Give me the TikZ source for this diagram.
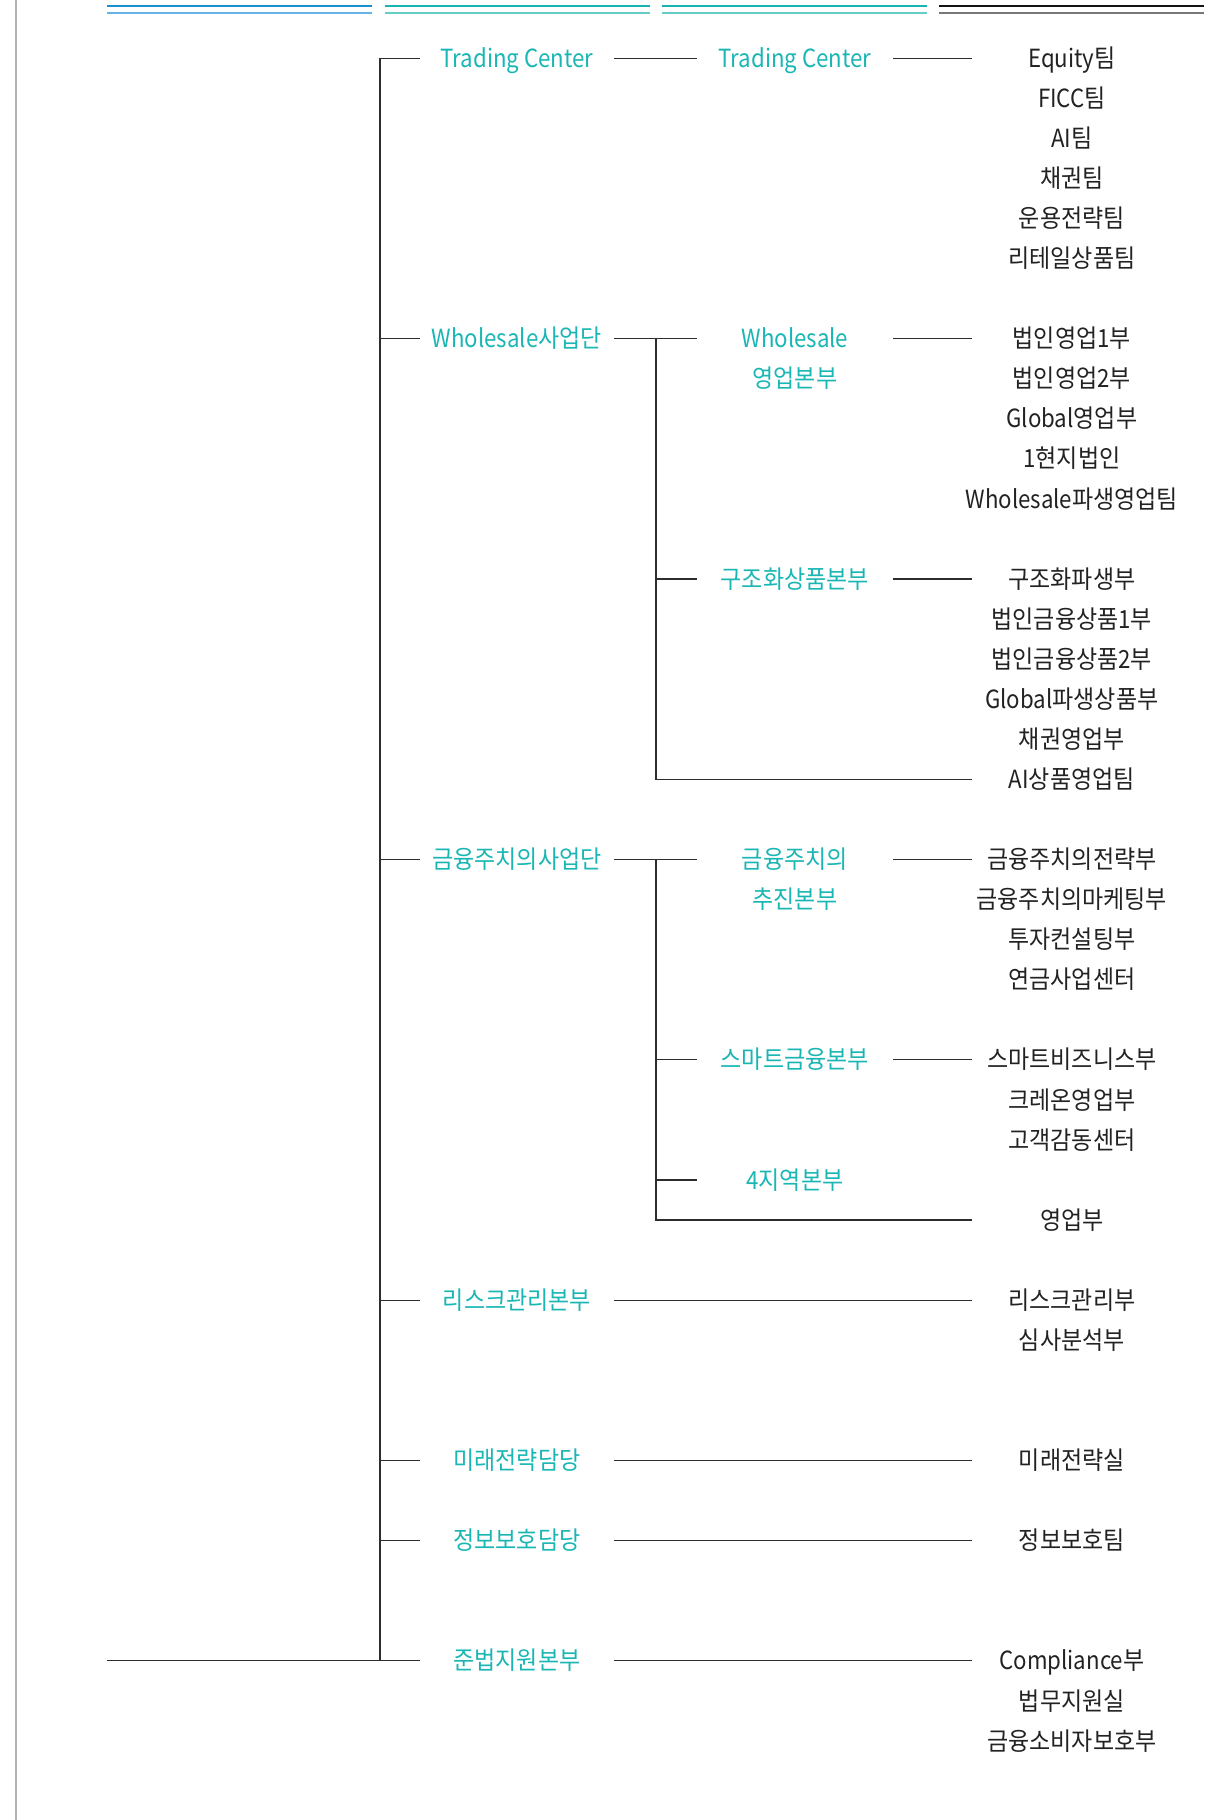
\documentclass[tikz,border=0pt]{standalone}
\usepackage{fontspec}
\setmainfont[FakeStretch=0.89]{Noto Sans CJK KR}
\newfontfamily\krfont[FakeStretch=0.92]{Noto Sans CJK KR}
\newcommand\kr[1]{{\krfont #1}}

\definecolor{orgteal}{RGB}{26,182,180}
\definecolor{orgtext}{RGB}{34,34,34}
\definecolor{orgline}{RGB}{45,45,45}
\definecolor{barblue}{RGB}{27,142,214}
\definecolor{barbluelt}{RGB}{100,180,230}
\definecolor{barteal}{RGB}{22,181,174}
\definecolor{bartealt}{RGB}{100,205,200}
\definecolor{barblack}{RGB}{20,20,20}
\definecolor{barblacklt}{RGB}{120,120,120}

\tikzset{
  unit/.style={inner sep=0pt, text height=9.2pt, text depth=0pt, align=center,
    font=\fontsize{12.5pt}{20pt}\selectfont},
  hq/.style={unit, text=orgteal, minimum width=97pt},
  div/.style={unit, text=orgteal, minimum width=98pt},
  team/.style={unit, text=orgtext, minimum width=99pt},
  link/.style={draw=orgline, line width=0.6pt},
}

\begin{document}
\begin{tikzpicture}[x=0.5pt, y=-0.5009pt]

        \useasboundingbox (0,0) rectangle (1226,1817);

        % header bars
        \foreach \x/\c in {107/barblue, 385/barteal, 662/barteal, 939/barblack}
          \draw[\c, line width=1.2pt] (\x,6.2) -- ++(265,0);
        \foreach \x/\c in {107/barbluelt, 385/bartealt, 662/bartealt, 939/barblacklt}
          \draw[\c, line width=0.7pt] (\x,13) -- ++(265,0);
        \draw[gray!60, line width=1pt] (16,0) -- (16,1817);

        \begin{scope}[every node/.style={hq}]
          \node (tc1)   at (517,58)   {Trading Center};
          \node (ws1)   at (517,338)  {Wholesale\kr{사업단}};
          \node (fd1)   at (517,858)  {\kr{금융주치의사업단}};
          \node (risk1) at (517,1298) {\kr{리스크관리본부}};
          \node (fut1)  at (517,1458) {\kr{미래전략담당}};
          \node (sec1)  at (517,1538) {\kr{정보보호담당}};
          \node (comp1) at (517,1658) {\kr{준법지원본부}};
        \end{scope}

        % two-line units sit on their last line
        \begin{scope}[every node/.style={div}]
          \node (tc2) at (795,58)   {Trading Center};
          \node (ws2) at (795,378)  {Wholesale\\\kr{영업본부}};
          \node (sp2) at (795,578)  {\kr{구조화상품본부}};
          \node (fd2) at (795,898)  {\kr{금융주치의}\\\kr{추진본부}};
          \node (sm2) at (795,1058) {\kr{스마트금융본부}};
          \node (rg2) at (795,1178) {4\kr{지역본부}};
        \end{scope}

        \begin{scope}[every node/.style={team}]
          \node (equity)   at (1072,58)   {Equity\kr{팀}};
          \node (ficc)     at (1072,98)   {FICC\kr{팀}};
          \node (ai)       at (1072,138)  {AI\kr{팀}};
          \node (bond)     at (1072,178)  {\kr{채권팀}};
          \node (opstrat)  at (1072,218)  {\kr{운용전략팀}};
          \node (retail)   at (1072,258)  {\kr{리테일상품팀}};

          \node (corp1)    at (1072,338)  {\kr{법인영업}1\kr{부}};
          \node (corp2)    at (1072,378)  {\kr{법인영업}2\kr{부}};
          \node (global)   at (1072,418)  {Global\kr{영업부}};
          \node (local)    at (1072,458)  {1\kr{현지법인}};
          \node (wsderiv)  at (1072,498)  {Wholesale\kr{파생영업팀}};

          \node (sderiv)   at (1072,578)  {\kr{구조화파생부}};
          \node (cprod1)   at (1072,618)  {\kr{법인금융상품}1\kr{부}};
          \node (cprod2)   at (1072,658)  {\kr{법인금융상품}2\kr{부}};
          \node (gderiv)   at (1072,698)  {Global\kr{파생상품부}};
          \node (bsales)   at (1072,738)  {\kr{채권영업부}};
          \node (aiprod)   at (1072,778)  {AI\kr{상품영업팀}};

          \node (fdstrat)  at (1072,858)  {\kr{금융주치의전략부}};
          \node (fdmkt)    at (1072,898)  {\kr{금융주치의마케팅부}};
          \node (invcons)  at (1072,938)  {\kr{투자컨설팅부}};
          \node (pension)  at (1072,978)  {\kr{연금사업센터}};

          \node (smbiz)    at (1072,1058) {\kr{스마트비즈니스부}};
          \node (kreon)    at (1072,1098) {\kr{크레온영업부}};
          \node (care)     at (1072,1138) {\kr{고객감동센터}};
          \node (sales)    at (1072,1218) {\kr{영업부}};

          \node (riskmgmt) at (1072,1298) {\kr{리스크관리부}};
          \node (review)   at (1072,1338) {\kr{심사분석부}};
          \node (futlab)   at (1072,1458) {\kr{미래전략실}};
          \node (secteam)  at (1072,1538) {\kr{정보보호팀}};

          \node (compl)    at (1072,1658) {Compliance\kr{부}};
          \node (legal)    at (1072,1698) {\kr{법무지원실}};
          \node (consumer) at (1072,1738) {\kr{금융소비자보호부}};
        \end{scope}

        \coordinate (root)  at (107,1658);
        \coordinate (trunk) at (380,58);
        \coordinate (bus)   at (656,0);

        % trunk
        \draw[link] (root) -- (comp1.west);
        \draw[link] (trunk) -- (trunk |- comp1.west);
        \foreach \n in {tc1,ws1,fd1,risk1,fut1,sec1}
          \draw[link] (trunk |- \n.west) -- (\n.west);

        % second level
        \draw[link] (tc1.east) -- (tc2.west);
        \draw[link] (ws1.east) -- (ws1.east -| ws2.west);
        \draw[link] (bus |- ws1.east) -- (bus |- aiprod.west) -- (aiprod.west);
        \draw[link] (bus |- sp2.west) -- (sp2.west);
        \draw[link] (fd1.east) -- (fd1.east -| fd2.west);
        \draw[link] (bus |- fd1.east) -- (bus |- sales.west) -- (sales.west);
        \draw[link] (bus |- sm2.west) -- (sm2.west);
        \draw[link] (bus |- rg2.west) -- (rg2.west);

        % third level
        \draw[link] (tc2.east) -- (equity.west);
        \draw[link] (ws2.east |- ws1.east) -- (corp1.west);
        \draw[link] (sp2.east) -- (sderiv.west);
        \draw[link] (fd2.east |- fd1.east) -- (fdstrat.west);
        \draw[link] (sm2.east) -- (smbiz.west);
        \draw[link] (risk1.east) -- (riskmgmt.west);
        \draw[link] (fut1.east) -- (futlab.west);
        \draw[link] (sec1.east) -- (secteam.west);
        \draw[link] (comp1.east) -- (compl.west);

      \end{tikzpicture}
\end{document}
